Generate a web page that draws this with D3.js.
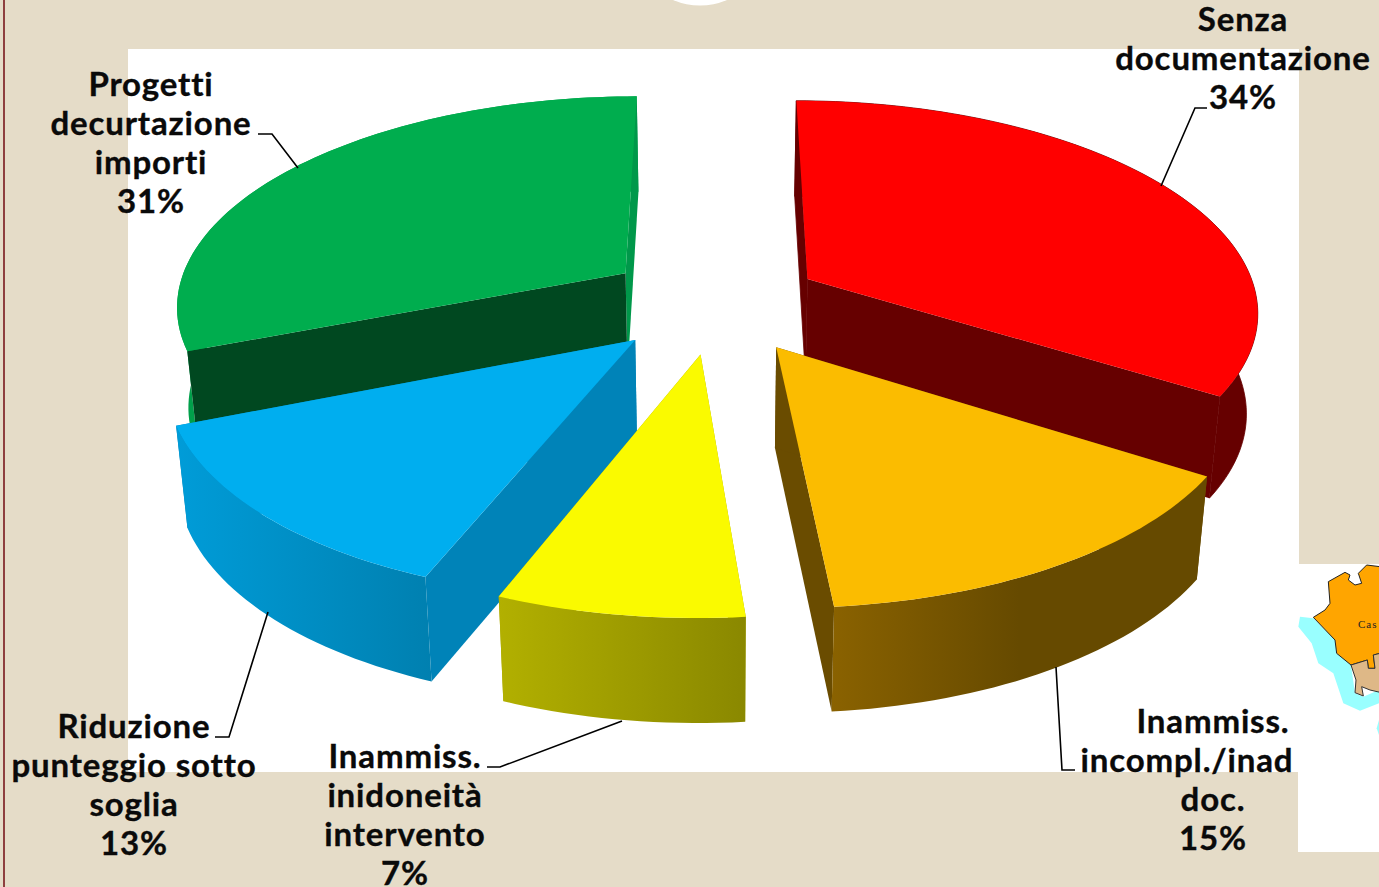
<!DOCTYPE html>
<html><head><meta charset="utf-8">
<script src="https://cdn.jsdelivr.net/npm/d3@7/dist/d3.min.js"></script>
<style>html,body{margin:0;padding:0;background:#E5DCC8;overflow:hidden}svg{display:block}</style>
</head><body><svg id="c" width="1379" height="887"></svg>
<script>
const categories = ["Senza documentazione","Inammiss. incompl./inad doc.","Inammiss. inidoneità intervento","Riduzione punteggio sotto soglia","Progetti decurtazione importi"];
const values = [34,14.6,7.4,13,31];
const topColors = ["#FF0000","#FBBC00","#FAFA00","#00AEEF","#00AD4E"];
const wallColors = ["#660000","#6A4C00","#A8A600","#0083B8","#004820"];
const rimLeft = ["#660000","#8A6200","#B2B000","#009CD8","#00A04A"];
const rimRight = ["#660000","#664A00","#8A8800","#0080B0","#00A04A"];
const explodes = [0.2325,0.245,0.245,0.25,0.25];
const labelLines = [["Senza","documentazione","34%"],["Inammiss.","incompl./inad","doc.","15%"],["Inammiss.","inidoneità","intervento","7%"],["Riduzione","punteggio sotto","soglia","13%"],["Progetti","decurtazione","importi","31%"]];

const svg = d3.select("#c");
const W=1379,H=887;
// slide frame
svg.append("rect").attr("width",W).attr("height",H).attr("fill","#E5DCC8");
svg.append("rect").attr("x",3).attr("width",2).attr("height",H).attr("fill","#8E3F3F");
svg.append("circle").attr("cx",700).attr("cy",-63.5).attr("r",69).attr("fill","#fff");
svg.append("rect").attr("x",128).attr("y",49).attr("width",1171).attr("height",723).attr("fill","#fff");
svg.append("rect").attr("x",1298).attr("y",564).attr("width",81).attr("height",288).attr("fill","#fff");
// map fragment
const z=p=>p.map(([a,b])=>[1280+a/3,540+b/3]);
const poly=(pts,fill,stroke)=>svg.append("path").attr("d",d3.line().curve(d3.curveLinearClosed)(z(pts))).attr("fill",fill).attr("stroke",stroke||"none").attr("stroke-width",1);
poly([[55,260],[60,230],[100,235],[165,300],[170,340],[213,375],[225,460],[250,470],[297,450],[297,490],[240,512],[190,490],[160,400],[115,370],[95,310]],"#99FFFF");
poly([[297,540],[290,565],[297,585]],"#99FFFF");
poly([[100,232],[135,210],[150,190],[145,125],[195,97],[210,105],[205,120],[225,135],[245,130],[235,100],[260,75],[300,80],[300,340],[280,345],[285,385],[265,385],[262,360],[213,375],[170,340],[165,300]],"#FFA500","#222");
poly([[213,375],[262,360],[265,385],[285,385],[280,345],[300,340],[300,457],[270,450],[245,440],[250,468],[225,458],[228,420]],"#DEB887","#333");
svg.append("text").attr("x",1358).attr("y",628).attr("font-family","Liberation Serif").attr("font-size",11).attr("letter-spacing",1).attr("fill","#222").text("Cas");

const defs=svg.append("defs");
// exploded 3D pie: d3.pie angles projected through a perspective view of a disc
const arcs=d3.pie().sort(null).value(d=>d)(values);
const cx=717, cy=302, rx=451, ry=209.5, persp=0.142, depth=100, shrink=0.021;
const project=(u,v,h)=>{const s=1/(1+persp*v);return [cx+rx*u*s*(1-h*shrink), cy-ry*v*s+h*depth*(1-0.04*v)];};
const line=d3.line();
const order=[4,0,3,1,2];
order.forEach(i=>{
  const a=arcs[i], mid=(a.startAngle+a.endAngle)/2;
  const eu=explodes[i]*Math.sin(mid), ev=explodes[i]*Math.cos(mid);
  const n=Math.max(8,Math.round((a.endAngle-a.startAngle)*40));
  const ts=d3.range(n+1).map(k=>a.startAngle+(a.endAngle-a.startAngle)*k/n);
  const rim=h=>ts.map(t=>project(eu+Math.sin(t),ev+Math.cos(t),h));
  const apex=h=>project(eu,ev,h);
  const g=svg.append("g").attr("class","slice");
  const r0=rim(0), r1=rim(1);
  const xe=d3.extent(r0.concat(r1),p=>p[0]);
  const gid="rim"+i;
  const lg=defs.append("linearGradient").attr("id",gid).attr("gradientUnits","userSpaceOnUse").attr("x1",xe[0]).attr("x2",xe[1]).attr("y1",0).attr("y2",0);
  lg.append("stop").attr("offset",0).attr("stop-color",rimLeft[i]);
  lg.append("stop").attr("offset",i==1?0.5:1).attr("stop-color",rimRight[i]);
  const outer=()=>g.append("path").attr("d",line(r0.concat(r1.slice().reverse()))+"Z").attr("fill",`url(#${gid})`).attr("stroke",i==0?"#660000":"none").attr("stroke-width",0.8);
  const radial=()=>{
    g.append("path").attr("d",line([apex(0),r0[n],r1[n],apex(1)])+"Z").attr("fill",i==4?"#00984A":wallColors[i]);
    g.append("path").attr("d",line([apex(0),r0[0],r1[0],apex(1)])+"Z").attr("fill",wallColors[i]).attr("stroke",i==0?"#660000":"none").attr("stroke-width",0.8);
  };
  // the two far slices show their cut faces in front of the rim, the near ones the other way round
  if(Math.cos(mid)>0){outer();radial();} else {radial();outer();}
  // top
  g.append("path").attr("d",line([apex(0)].concat(r0))+"Z").attr("fill",topColors[i]);
});

// leader lines
const leaders=[
 [[1207,108],[1195,108],[1161,186]],
 [[1075,770],[1062,770],[1056,667]],
 [[487,767],[500,767],[622,721]],
 [[215,737],[229,737],[268,612]],
 [[258,134],[272,134],[298,168]]];
leaders.forEach(l=>svg.append("path").attr("d",line(l)).attr("fill","none").attr("stroke","#000").attr("stroke-width",1.6));
// labels
const labelX=[[1243,1243,1243],[1213,1187,1213,1213],[405,405,405,405],[134,134,134,134],[151,151,151,151]];
const labelY=[31,733,768,738,96];
labelLines.forEach((ls,i)=>{
  ls.forEach((t,j)=>svg.append("text").attr("x",labelX[i][j]).attr("y",labelY[i]+39*j)
    .attr("text-anchor","middle").attr("font-family","Lato").attr("font-weight",700).attr("font-size",33).attr("letter-spacing",0.85)
    .attr("stroke","#0a0a0a").attr("stroke-width",0.35).attr("fill","#0a0a0a").text(t));
});
</script></body></html>
